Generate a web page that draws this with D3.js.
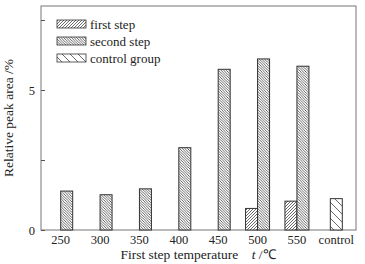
<!DOCTYPE html>
<html>
<head>
<meta charset="utf-8">
<script src="https://cdn.jsdelivr.net/npm/d3@7"></script>
<style>
  body { margin: 0; background: #fff; }
  text { font-family: "Liberation Serif", "Times New Roman", serif; fill: #222; }
</style>
</head>
<body>
<div id="chart"></div>
<script>
const categories = ["250", "300", "350", "400", "450", "500", "550", "control"];
const firstStep = [null, null, null, null, null, 0.77, 1.03, null];
const secondStep = [1.39, 1.26, 1.47, 2.94, 5.74, 6.11, 5.85, null];
const controlGroup = [null, null, null, null, null, null, null, 1.12];
const yTicks = [0, 2.5, 5, 7.5];
const yTickLabels = ["0", "", "5", ""];

const width = 365, height = 264,
    margin = ({ top: 6, right: 9, bottom: 34, left: 41 });

const svg = d3.select("#chart")
    .append("svg")
    .attr("width", width)
    .attr("height", height);

// hatch patterns
const defs = svg.append("defs");
function hatch(id, spacing, dir) {
    const p = defs.append("pattern")
        .attr("id", id)
        .attr("patternUnits", "userSpaceOnUse")
        .attr("width", spacing)
        .attr("height", spacing);
    p.append("rect").attr("width", spacing).attr("height", spacing).attr("fill", "#fff");
    const d = dir > 0
        ? `M0,${spacing} L${spacing},0 M${-spacing},${spacing} L0,0 M${spacing},${2 * spacing} L${2 * spacing},${spacing}`
        : `M0,0 L${spacing},${spacing} M${-spacing},0 L0,${spacing} M${spacing},0 L${2 * spacing},${spacing}`;
    p.append("path").attr("d", d).attr("stroke", "#444").attr("stroke-width", 0.8);
}
hatch("h-first", 3, 1);
hatch("h-second", 2.6, -1);
hatch("h-control", 8, -1);

let x = d3.scaleBand()
    .domain(categories)
    .range([margin.left, width - margin.right]);

let y = d3.scaleLinear()
    .domain([0, 8])
    .range([height - margin.bottom, margin.top]);

const barW = 12;

// frame
svg.append("rect")
    .attr("x", margin.left)
    .attr("y", margin.top)
    .attr("width", width - margin.left - margin.right)
    .attr("height", height - margin.top - margin.bottom)
    .attr("fill", "none")
    .attr("stroke", "#777")
    .attr("stroke-width", 1);

// y axis
let yAxis = svg.append("g")
    .attr("transform", `translate(${margin.left},0)`)
    .call(d3.axisRight(y)
        .tickValues(yTicks)
        .tickFormat((d, i) => yTickLabels[i])
        .tickSize(4)
        .tickSizeOuter(0));
yAxis.select(".domain").remove();
yAxis.selectAll("line").attr("stroke", "#555");
yAxis.selectAll("text")
    .attr("x", -6)
    .attr("text-anchor", "end")
    .style("font-size", "12.5px")
    .style("font-family", "Liberation Serif");

// x axis labels
let xAxis = svg.append("g")
    .attr("transform", `translate(0,${height - margin.bottom})`)
    .call(d3.axisBottom(x).tickSize(0).tickPadding(5));
xAxis.select(".domain").remove();
xAxis.selectAll("text")
    .style("font-size", "12.5px")
    .style("font-family", "Liberation Serif");

// bars
function bars(values, fill, offset) {
    svg.append("g")
        .selectAll("rect")
        .data(categories.map((c, i) => ({ c, v: values[i] })).filter(d => d.v != null))
        .join("rect")
        .attr("x", d => x(d.c) + x.bandwidth() / 2 + offset)
        .attr("y", d => y(d.v))
        .attr("width", barW)
        .attr("height", d => y(0) - y(d.v))
        .attr("fill", fill)
        .attr("stroke", "#333")
        .attr("stroke-width", 1);
}
bars(firstStep, "url(#h-first)", -barW);
bars(secondStep, "url(#h-second)", 0);
bars(controlGroup, "url(#h-control)", -barW / 2);

// legend
const legend = [
    ["first step", "url(#h-first)"],
    ["second step", "url(#h-second)"],
    ["control group", "url(#h-control)"]
];
let lg = svg.append("g");
legend.forEach(([name, fill], i) => {
    lg.append("rect")
        .attr("x", 57)
        .attr("y", 20 + i * 17)
        .attr("width", 29)
        .attr("height", 8)
        .attr("fill", fill)
        .attr("stroke", "#333")
        .attr("stroke-width", 0.8);
    lg.append("text")
        .attr("x", 90)
        .attr("y", 28.5 + i * 17)
        .style("font-size", "13px")
        .text(name);
});

// axis titles
svg.append("text")
    .attr("text-anchor", "middle")
    .attr("transform", `translate(13,${(margin.top + height - margin.bottom) / 2}) rotate(-90)`)
    .style("font-size", "13.5px")
    .text("Relative peak area /%");

let xl = svg.append("text")
    .attr("x", 198)
    .attr("y", 259)
    .attr("text-anchor", "middle")
    .style("font-size", "13.5px");
xl.append("tspan").text("First step temperature\u2003");
xl.append("tspan").attr("font-style", "italic").text("t");
xl.append("tspan").text(" /\u2103");
</script>
</body>
</html>
